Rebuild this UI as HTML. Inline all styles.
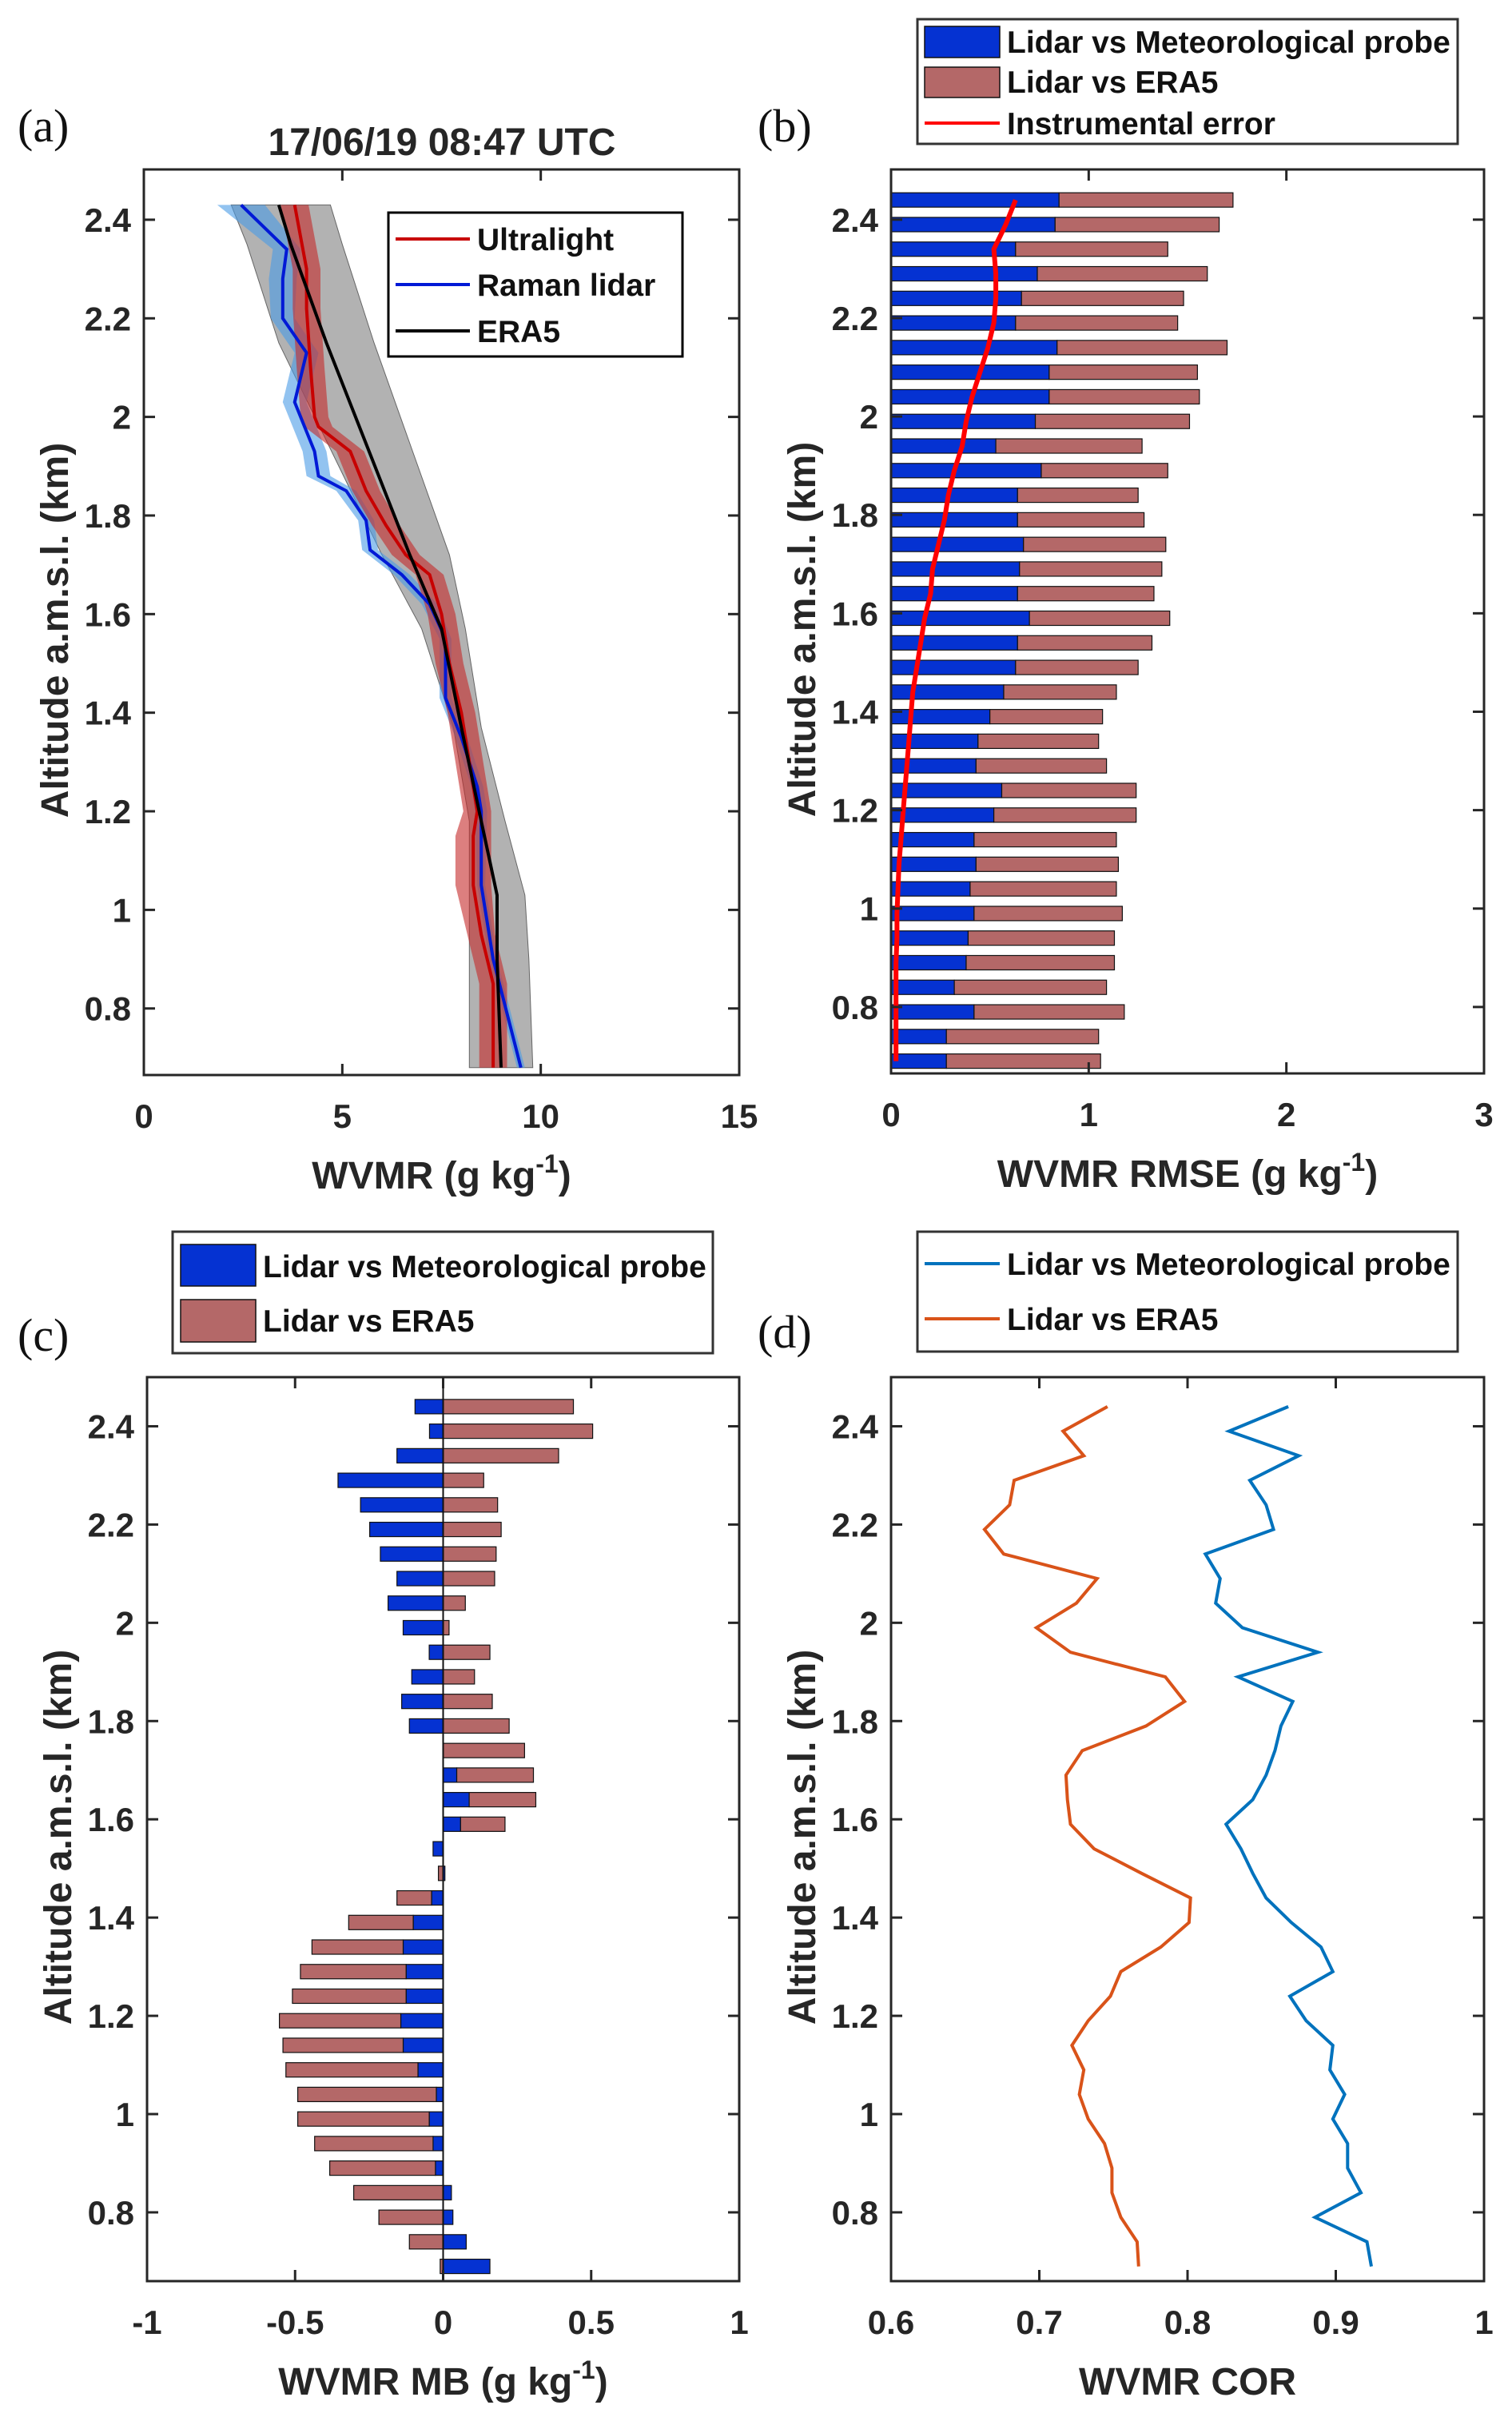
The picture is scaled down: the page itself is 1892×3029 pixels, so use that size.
<!DOCTYPE html>
<html><head><meta charset="utf-8">
<style>
html,body{margin:0;padding:0;background:#fff;}
svg{display:block;font-family:"Liberation Sans",Arial,sans-serif;}
.tk{font-weight:bold;font-size:42px;fill:#262626;}
.lab{font-weight:bold;font-size:48px;fill:#262626;}
.lg{font-weight:bold;font-size:39px;fill:#111;}
.pl{font-family:"Liberation Serif",serif;font-size:58px;fill:#111;}
</style></head>
<body>
<svg id="fig" width="1892" height="3029" viewBox="0 0 1892 3029" xmlns="http://www.w3.org/2000/svg"></svg>
<script>
// ---------- DATA ----------
const ulAlt = [2.43,2.3,2.22,2.1,2.0,1.98,1.93,1.85,1.78,1.72,1.68,1.6,1.5,1.4,1.3,1.2,1.15,1.05,0.95,0.85,0.68];
const ulVal = [3.8,4.1,4.1,4.2,4.3,4.4,5.2,5.6,6.1,6.6,7.2,7.5,7.7,8.0,8.2,8.4,8.3,8.3,8.5,8.8,8.8];
const ulErr = [0.35,0.35,0.35,0.35,0.35,0.35,0.35,0.35,0.35,0.35,0.35,0.35,0.35,0.35,0.35,0.35,0.45,0.45,0.35,0.35,0.35];
const rlAlt = [2.43,2.34,2.28,2.2,2.13,2.03,1.93,1.88,1.85,1.79,1.73,1.68,1.62,1.55,1.43,1.35,1.25,1.2,1.05,0.9,0.68];
const rlVal = [2.45,3.6,3.5,3.5,4.1,3.8,4.3,4.4,5.1,5.6,5.7,6.5,7.2,7.6,7.6,8.0,8.4,8.5,8.5,8.8,9.5];
const rlErr = [0.6,0.35,0.35,0.3,0.3,0.3,0.3,0.3,0.25,0.2,0.2,0.2,0.2,0.15,0.15,0.15,0.15,0.15,0.1,0.1,0.1];
const eraAlt = [2.43,2.35,2.15,1.72,1.57,1.37,1.18,1.03,0.9,0.68];
const eraVal = [3.4,3.7,4.6,6.7,7.5,8.0,8.5,8.9,8.9,9.0];
const eraLow = [2.2,2.6,3.4,6.0,7.0,7.8,8.2,8.2,8.2,8.2];
const eraHigh = [4.7,5.0,5.8,7.7,8.1,8.5,9.1,9.6,9.7,9.8];
const levels = [2.44,2.39,2.34,2.29,2.24,2.19,2.14,2.09,2.04,1.99,1.94,1.89,1.84,1.79,1.74,1.69,1.64,1.59,1.54,1.49,1.44,1.39,1.34,1.29,1.24,1.19,1.14,1.09,1.04,0.99,0.94,0.89,0.84,0.79,0.74,0.69];
const rmseProbe = [0.85,0.83,0.63,0.74,0.66,0.63,0.84,0.80,0.80,0.73,0.53,0.76,0.64,0.64,0.67,0.65,0.64,0.70,0.64,0.63,0.57,0.50,0.44,0.43,0.56,0.52,0.42,0.43,0.40,0.42,0.39,0.38,0.32,0.42,0.28,0.28];
const rmseEraTotal = [1.73,1.66,1.40,1.60,1.48,1.45,1.70,1.55,1.56,1.51,1.27,1.40,1.25,1.28,1.39,1.37,1.33,1.41,1.32,1.25,1.14,1.07,1.05,1.09,1.24,1.24,1.14,1.15,1.14,1.17,1.13,1.13,1.09,1.18,1.05,1.06];
const instErr = [0.63,0.58,0.52,0.53,0.53,0.52,0.49,0.45,0.41,0.38,0.36,0.32,0.29,0.27,0.24,0.21,0.20,0.17,0.15,0.13,0.11,0.10,0.09,0.08,0.07,0.06,0.05,0.04,0.035,0.03,0.03,0.025,0.025,0.025,0.025,0.025];
const mbProbe = [-0.095,-0.046,-0.156,-0.355,-0.279,-0.248,-0.212,-0.156,-0.186,-0.135,-0.047,-0.106,-0.14,-0.114,0,0.046,0.088,0.059,-0.034,0.006,-0.039,-0.101,-0.135,-0.125,-0.125,-0.143,-0.135,-0.085,-0.023,-0.047,-0.034,-0.026,0.028,0.033,0.078,0.158];
const mbEra = [0.44,0.505,0.39,0.137,0.184,0.196,0.179,0.174,0.075,0.02,0.158,0.106,0.166,0.223,0.275,0.259,0.225,0.15,0,-0.016,-0.117,-0.218,-0.308,-0.357,-0.384,-0.41,-0.406,-0.446,-0.468,-0.444,-0.4,-0.357,-0.302,-0.217,-0.114,-0.01];
const corProbe = [0.868,0.828,0.875,0.842,0.853,0.858,0.812,0.822,0.819,0.837,0.888,0.834,0.871,0.863,0.859,0.853,0.844,0.826,0.836,0.844,0.853,0.870,0.890,0.898,0.869,0.880,0.898,0.896,0.906,0.898,0.908,0.908,0.917,0.886,0.921,0.924];
const corEra = [0.746,0.716,0.730,0.683,0.680,0.663,0.676,0.739,0.725,0.698,0.721,0.785,0.798,0.772,0.729,0.718,0.719,0.721,0.737,0.769,0.802,0.801,0.782,0.755,0.748,0.733,0.722,0.730,0.727,0.733,0.744,0.749,0.749,0.755,0.766,0.767];
const yTicks = [0.8,1.0,1.2,1.4,1.6,1.8,2.0,2.2,2.4];
const yTickLabels = ["0.8","1","1.2","1.4","1.6","1.8","2","2.2","2.4"];
const xTicksA = [0,5,10,15];
const xTicksB = [0,1,2,3];
const xTicksC = [-1,-0.5,0,0.5,1];
const xTicksCLabels = ["-1","-0.5","0","0.5","1"];
const xTicksD = [0.6,0.7,0.8,0.9,1];
const xTicksDLabels = ["0.6","0.7","0.8","0.9","1"];

// ---------- HELPERS ----------
const NS = "http://www.w3.org/2000/svg";
const svg = document.getElementById('fig');
function mk(tag, attrs, parent){
  const e = document.createElementNS(NS, tag);
  for (const k in attrs) e.setAttribute(k, attrs[k]);
  (parent||svg).appendChild(e);
  return e;
}
function axis(P){
  P.sx = v => P.L + (v - P.xmin)/(P.xmax - P.xmin)*(P.R - P.L);
  P.sy = v => P.B - (v - P.ymin)/(P.ymax - P.ymin)*(P.B - P.T);
  return P;
}
const PA = axis({L:180,R:925,T:212,B:1345,xmin:0,xmax:15,ymin:0.665,ymax:2.502});
const PB = axis({L:1115,R:1857,T:212,B:1343,xmin:0,xmax:3,ymin:0.665,ymax:2.502});
const PC = axis({L:184,R:925,T:1723,B:2854,xmin:-1,xmax:1,ymin:0.66,ymax:2.50});
const PD = axis({L:1115,R:1857,T:1723,B:2854,xmin:0.6,xmax:1,ymin:0.66,ymax:2.50});

function frame(P, g, xt, xtl, xlabelText, name){
  const box = mk('rect',{x:P.L,y:P.T,width:P.R-P.L,height:P.B-P.T,fill:'none',stroke:'#262626','stroke-width':3},g);
  
  
  yTicks.forEach((v,i)=>{
    const y = P.sy(v);
    mk('line',{x1:P.L,y1:y,x2:P.L+14,y2:y,stroke:'#262626','stroke-width':3},g);
    mk('line',{x1:P.R,y1:y,x2:P.R-14,y2:y,stroke:'#262626','stroke-width':3},g);
    const t = mk('text',{x:P.L-16,y:y+15,'text-anchor':'end',class:'tk'},g);
    t.textContent = yTickLabels[i];
    
    
  });
  xt.forEach((v,i)=>{
    const x = P.sx(v);
    mk('line',{x1:x,y1:P.B,x2:x,y2:P.B-14,stroke:'#262626','stroke-width':3},g);
    mk('line',{x1:x,y1:P.T,x2:x,y2:P.T+14,stroke:'#262626','stroke-width':3},g);
    const t = mk('text',{x:x,y:P.B+66,'text-anchor':'middle',class:'tk'},g);
    t.textContent = xtl[i];
    
    
  });
  const yl = mk('text',{x:0,y:0,'text-anchor':'middle',class:'lab',transform:`translate(${P.L-95},${(P.T+P.B)/2+10}) rotate(-90)`},g);
  yl.textContent = 'Altitude a.m.s.l. (km)';
  
  
  const xl = mk('text',{x:(P.L+P.R)/2,y:P.B+142,'text-anchor':'middle',class:'lab'},g);
  xl.innerHTML = xlabelText;
  
  
}
function poly(P, alts, vals){
  return alts.map((a,i)=>P.sx(vals[i]).toFixed(1)+','+P.sy(a).toFixed(1)).join(' ');
}
function band(P, alts, lo, hi){
  const a = alts.map((al,i)=>P.sx(lo[i]).toFixed(1)+','+P.sy(al).toFixed(1));
  const b = alts.map((al,i)=>P.sx(hi[i]).toFixed(1)+','+P.sy(al).toFixed(1)).reverse();
  return a.concat(b).join(' ');
}
const unitSup = '(g kg<tspan dy="-20" font-size="32">-1</tspan><tspan dy="20">)</tspan>';

// ---------- PANEL A ----------
const gA = mk('g',{});


const eraBand = mk('polygon',{points:band(PA,eraAlt,eraLow,eraHigh),fill:'#7f7f7f','fill-opacity':0.6,stroke:'#666','stroke-width':1},gA);


const rlBand = mk('polygon',{points:band(PA,rlAlt,rlVal.map((v,i)=>v-rlErr[i]),rlVal.map((v,i)=>v+rlErr[i])),fill:'#4a9be6','fill-opacity':0.6},gA);


const ulBand = mk('polygon',{points:band(PA,ulAlt,ulVal.map((v,i)=>v-ulErr[i]),ulVal.map((v,i)=>v+ulErr[i])),fill:'#c42a2a','fill-opacity':0.6},gA);


const rlLine = mk('polyline',{points:poly(PA,rlAlt,rlVal),fill:'none',stroke:'#0019d6','stroke-width':4},gA);


const ulLine = mk('polyline',{points:poly(PA,ulAlt,ulVal),fill:'none',stroke:'#c80000','stroke-width':4},gA);


const eraLine = mk('polyline',{points:poly(PA,eraAlt,eraVal),fill:'none',stroke:'#000','stroke-width':4},gA);


frame(PA,gA,xTicksA,xTicksA.map(String),'WVMR '+unitSup,'panel-a');
const tA = mk('text',{x:553,y:194,'text-anchor':'middle',class:'lab','font-size':44},gA);
tA.textContent = '17/06/19 08:47 UTC';


const lA = mk('rect',{x:486,y:266,width:368,height:180,fill:'#fff',stroke:'#000','stroke-width':3},gA);


[['Ultralight','#c80000',299],['Raman lidar','#0019d6',356],['ERA5','#000',414]].forEach(e=>{
  mk('line',{x1:495,y1:e[2],x2:588,y2:e[2],stroke:e[1],'stroke-width':4},gA);
  const t = mk('text',{x:597,y:e[2]+14,class:'lg'},gA);
  t.textContent = e[0];
  
  
});

// ---------- PANEL B ----------
const gB = mk('g',{});


const barH = 18;
levels.forEach((a,i)=>{
  const y = PB.sy(a) - barH/2;
  const r1 = mk('rect',{x:PB.sx(0),y:y,width:PB.sx(rmseProbe[i])-PB.sx(0),height:barH,fill:'#0532d2',stroke:'#111','stroke-width':1.2},gB);
  
  
  const r2 = mk('rect',{x:PB.sx(rmseProbe[i]),y:y,width:PB.sx(rmseEraTotal[i])-PB.sx(rmseProbe[i]),height:barH,fill:'#b46868',stroke:'#111','stroke-width':1.2},gB);
  
  
});
const ie = mk('polyline',{points:poly(PB,levels,instErr),fill:'none',stroke:'#f00','stroke-width':6},gB);


frame(PB,gB,xTicksB,xTicksB.map(String),'WVMR RMSE '+unitSup,'panel-b');
const lB = mk('rect',{x:1148,y:24,width:676,height:156,fill:'#fff',stroke:'#333','stroke-width':3},gB);


mk('rect',{x:1157,y:33,width:94,height:39,fill:'#0532d2',stroke:'#111','stroke-width':1.5},gB);
mk('rect',{x:1157,y:84,width:94,height:38,fill:'#b46868',stroke:'#111','stroke-width':1.5},gB);
mk('line',{x1:1157,y1:154,x2:1251,y2:154,stroke:'#f00','stroke-width':4},gB);
[['Lidar vs Meteorological probe',66],['Lidar vs ERA5',116],['Instrumental error',168]].forEach(e=>{
  const t = mk('text',{x:1260,y:e[1],class:'lg'},gB);
  t.textContent = e[0];
  
  
});

// ---------- PANEL C ----------
const gC = mk('g',{});


levels.forEach((a,i)=>{
  const y = PC.sy(a) - barH/2;
  const p = mbProbe[i], e = mbEra[i];
  const base = (p*e > 0) ? p : 0;
  const x0 = PC.sx(0), x1 = PC.sx(p);
  if (p !== 0) {
    const r1 = mk('rect',{x:Math.min(x0,x1),y:y,width:Math.abs(x1-x0),height:barH,fill:'#0532d2',stroke:'#111','stroke-width':1.2},gC);
    
    
  }
  if (e !== 0) {
    const xa = PC.sx(base), xb = PC.sx(base+e);
    const r2 = mk('rect',{x:Math.min(xa,xb),y:y,width:Math.abs(xb-xa),height:barH,fill:'#b46868',stroke:'#111','stroke-width':1.2},gC);
    
    
  }
});
mk('line',{x1:PC.sx(0),y1:PC.T,x2:PC.sx(0),y2:PC.B,stroke:'#111','stroke-width':2},gC);
frame(PC,gC,xTicksC,xTicksCLabels,'WVMR MB '+unitSup,'panel-c');
const lC = mk('rect',{x:216,y:1541,width:676,height:152,fill:'#fff',stroke:'#333','stroke-width':3},gC);


mk('rect',{x:226,y:1557,width:94,height:52,fill:'#0532d2',stroke:'#111','stroke-width':1.5},gC);
mk('rect',{x:226,y:1626,width:94,height:53,fill:'#b46868',stroke:'#111','stroke-width':1.5},gC);
[['Lidar vs Meteorological probe',1598],['Lidar vs ERA5',1666]].forEach(e=>{
  const t = mk('text',{x:329,y:e[1],class:'lg'},gC);
  t.textContent = e[0];
  
  
});

// ---------- PANEL D ----------
const gD = mk('g',{});


const cE = mk('polyline',{points:poly(PD,levels,corEra),fill:'none',stroke:'#d95319','stroke-width':4},gD);


const cP = mk('polyline',{points:poly(PD,levels,corProbe),fill:'none',stroke:'#0072bd','stroke-width':4},gD);


frame(PD,gD,xTicksD,xTicksDLabels,'WVMR COR','panel-d');
const lD = mk('rect',{x:1148,y:1541,width:676,height:150,fill:'#fff',stroke:'#333','stroke-width':3},gD);


mk('line',{x1:1157,y1:1581,x2:1251,y2:1581,stroke:'#0072bd','stroke-width':4},gD);
mk('line',{x1:1157,y1:1650,x2:1251,y2:1650,stroke:'#d95319','stroke-width':4},gD);
[['Lidar vs Meteorological probe',1595],['Lidar vs ERA5',1664]].forEach(e=>{
  const t = mk('text',{x:1260,y:e[1],class:'lg'},gD);
  t.textContent = e[0];
  
  
});

// ---------- PANEL LETTERS ----------
[['(a)',22,177],['(b)',948,177],['(c)',22,1690],['(d)',948,1686]].forEach(e=>{
  const t = mk('text',{x:e[1],y:e[2],class:'pl'});
  t.textContent = e[0];
  
  
});
</script>
</body></html>
